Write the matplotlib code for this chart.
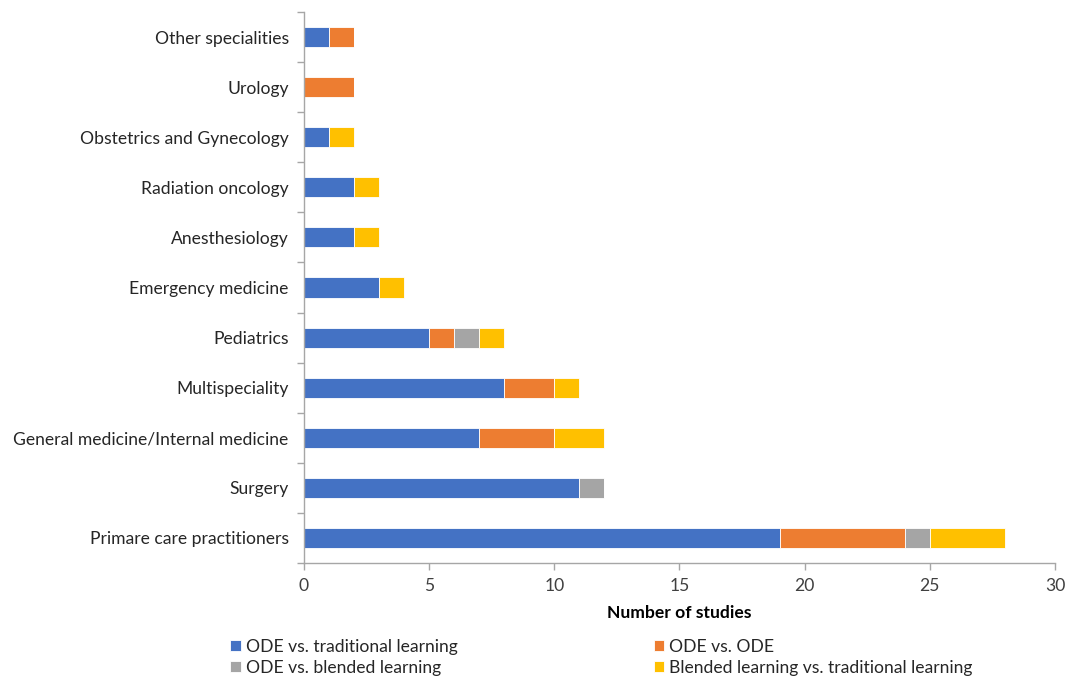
import numpy as np
import matplotlib
matplotlib.use("Agg")
import matplotlib.pyplot as plt
from matplotlib.ticker import FixedLocator

plt.rcParams['font.family'] = ['Lato', 'DejaVu Sans']

categories = ["Primare care practitioners", "Surgery", "General medicine/Internal medicine",
              "Multispeciality", "Pediatrics", "Emergency medicine", "Anesthesiology",
              "Radiation oncology", "Obstetrics and Gynecology", "Urology", "Other specialities"]
series_names = ["ODE vs. traditional learning", "ODE vs. ODE",
                "ODE vs. blended learning", "Blended learning vs. traditional learning"]
ode_trad = [19, 11, 7, 8, 5, 3, 2, 2, 1, 0, 1]
ode_ode = [5, 0, 3, 2, 1, 0, 0, 0, 0, 2, 1]
ode_blend = [1, 1, 0, 0, 1, 0, 0, 0, 0, 0, 0]
blend_trad = [3, 0, 2, 1, 1, 1, 1, 1, 1, 0, 0]
colors = ["#4472C4", "#ED7D31", "#A5A5A5", "#FFC000"]

fig = plt.figure(figsize=(10.72, 6.78), dpi=100)
ax = fig.add_axes([0.2836, 0.1696, 0.7005, 0.8127])

y = np.arange(len(categories))
left = np.zeros(len(categories))
bars = []
for vals, c, name in zip([ode_trad, ode_ode, ode_blend, blend_trad], colors, series_names):
    vals = np.array(vals, dtype=float)
    b = ax.barh(y, vals, left=left, height=0.4, color=c, edgecolor='white', linewidth=0.6, label=name)
    bars.append(b)
    left += vals

ax.set_xlim(0, 30)
ax.set_ylim(-0.5, len(categories) - 0.5)
ax.set_xticks(np.arange(0, 31, 5))
ax.set_yticks(y)
ax.set_yticklabels(categories)
ax.yaxis.set_minor_locator(FixedLocator(np.arange(-0.5, len(categories), 1)))
ax.tick_params(axis='y', which='major', length=0, pad=11, labelsize=12.6, labelcolor='#262626')
ax.tick_params(axis='y', which='minor', length=5, color='#A6A6A6', width=1)
ax.tick_params(axis='x', length=5, color='#A6A6A6', width=1, labelsize=12.6, labelcolor='#404040', pad=6)

for s in ['top', 'right']:
    ax.spines[s].set_visible(False)
for s in ['left', 'bottom']:
    ax.spines[s].set_color('#A6A6A6')
    ax.spines[s].set_linewidth(1)

ax.set_xlabel("Number of studies", fontsize=12.6, fontweight='bold', color='#000000', labelpad=8)

# legend fills column-wise, so reorder to get Excel's row-wise layout
handles = [bars[0], bars[2], bars[1], bars[3]]
labels = [series_names[0], series_names[2], series_names[1], series_names[3]]
fig.legend(handles, labels, ncol=2, loc='lower left', bbox_to_anchor=(0.2, -0.02),
           frameon=False, fontsize=12.6, handlelength=0.6, handleheight=0.6, handletextpad=0.3,
           columnspacing=11.2, labelspacing=0.3, labelcolor='#262626')

fig.savefig("out.png", dpi=100)
